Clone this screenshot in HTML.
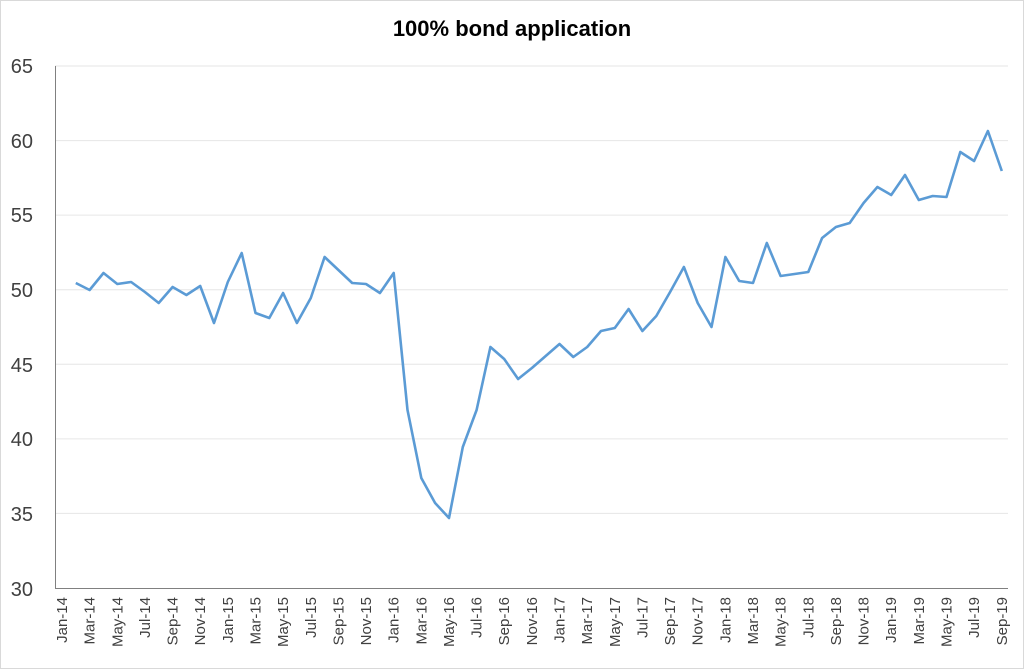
<!DOCTYPE html>
<html><head><meta charset="utf-8"><style>
html,body{margin:0;padding:0;background:#fff;}
svg{display:block;font-family:"Liberation Sans",sans-serif;}
</style></head><body>
<svg width="1024" height="669" viewBox="0 0 1024 669">
<rect x="0.5" y="0.5" width="1023" height="668" fill="#fff" stroke="#d9d9d9"/>
<text x="512" y="36" text-anchor="middle" font-size="22" font-weight="bold" fill="#000">100% bond application</text>
<g stroke="#e6e6e6" stroke-width="1">
<line x1="55" x2="1008" y1="513.4" y2="513.4"/>
<line x1="55" x2="1008" y1="438.9" y2="438.9"/>
<line x1="55" x2="1008" y1="364.3" y2="364.3"/>
<line x1="55" x2="1008" y1="289.7" y2="289.7"/>
<line x1="55" x2="1008" y1="215.1" y2="215.1"/>
<line x1="55" x2="1008" y1="140.6" y2="140.6"/>
<line x1="55" x2="1008" y1="66" y2="66"/>
</g>
<line x1="55.5" x2="55.5" y1="66" y2="588" stroke="#808080"/>
<line x1="55" x2="1008" y1="588.5" y2="588.5" stroke="#808080"/>
<g font-size="20" fill="#404040" text-anchor="end">
<text x="33" y="596">30</text><text x="33" y="521">35</text><text x="33" y="446">40</text>
<text x="33" y="372">45</text><text x="33" y="297">50</text><text x="33" y="222">55</text>
<text x="33" y="148">60</text><text x="33" y="73">65</text>
</g>
<g font-size="15" fill="#404040" text-anchor="end">
<text transform="translate(67,597) rotate(-90)">Jan-14</text>
<text transform="translate(94.6,597) rotate(-90)">Mar-14</text>
<text transform="translate(122.3,597) rotate(-90)">May-14</text>
<text transform="translate(149.9,597) rotate(-90)">Jul-14</text>
<text transform="translate(177.6,597) rotate(-90)">Sep-14</text>
<text transform="translate(205.2,597) rotate(-90)">Nov-14</text>
<text transform="translate(232.8,597) rotate(-90)">Jan-15</text>
<text transform="translate(260.5,597) rotate(-90)">Mar-15</text>
<text transform="translate(288.1,597) rotate(-90)">May-15</text>
<text transform="translate(315.8,597) rotate(-90)">Jul-15</text>
<text transform="translate(343.4,597) rotate(-90)">Sep-15</text>
<text transform="translate(371,597) rotate(-90)">Nov-15</text>
<text transform="translate(398.7,597) rotate(-90)">Jan-16</text>
<text transform="translate(426.3,597) rotate(-90)">Mar-16</text>
<text transform="translate(454,597) rotate(-90)">May-16</text>
<text transform="translate(481.6,597) rotate(-90)">Jul-16</text>
<text transform="translate(509.2,597) rotate(-90)">Sep-16</text>
<text transform="translate(536.9,597) rotate(-90)">Nov-16</text>
<text transform="translate(564.5,597) rotate(-90)">Jan-17</text>
<text transform="translate(592.2,597) rotate(-90)">Mar-17</text>
<text transform="translate(619.8,597) rotate(-90)">May-17</text>
<text transform="translate(647.4,597) rotate(-90)">Jul-17</text>
<text transform="translate(675.1,597) rotate(-90)">Sep-17</text>
<text transform="translate(702.7,597) rotate(-90)">Nov-17</text>
<text transform="translate(730.4,597) rotate(-90)">Jan-18</text>
<text transform="translate(758,597) rotate(-90)">Mar-18</text>
<text transform="translate(785.6,597) rotate(-90)">May-18</text>
<text transform="translate(813.3,597) rotate(-90)">Jul-18</text>
<text transform="translate(840.9,597) rotate(-90)">Sep-18</text>
<text transform="translate(868.6,597) rotate(-90)">Nov-18</text>
<text transform="translate(896.2,597) rotate(-90)">Jan-19</text>
<text transform="translate(923.8,597) rotate(-90)">Mar-19</text>
<text transform="translate(951.5,597) rotate(-90)">May-19</text>
<text transform="translate(979.1,597) rotate(-90)">Jul-19</text>
<text transform="translate(1006.8,597) rotate(-90)">Sep-19</text>
</g>
<polyline fill="none" stroke="#5b9bd5" stroke-width="2.6" stroke-linejoin="round" points="75.8,283 89.6,290 103.5,273 117.3,284 131.1,282 144.9,292 158.7,303 172.6,287 186.4,295 200.2,286 214,323 227.8,282 241.7,253 255.5,313 269.3,318 283.1,293 296.9,323 310.8,298 324.6,257 338.4,270 352.2,283 366,284 379.9,293 393.7,273 407.5,410 421.3,478 435.1,503 449,518 462.8,447 476.6,410 490.4,347 504.2,359 518.1,379 531.9,368 545.7,356 559.5,344 573.3,357 587.2,347 601,331 614.8,328 628.6,309 642.4,331 656.3,316 670.1,292 683.9,267 697.7,303 711.5,327 725.4,257 739.2,281 753,283 766.8,243 780.6,276 794.5,274 808.3,272 822.1,238 835.9,227 849.7,223 863.6,203 877.4,187 891.2,195 905,175 918.8,200 932.7,196 946.5,197 960.3,152 974.1,161 987.9,131 1001.8,171"/>
</svg>
</body></html>
